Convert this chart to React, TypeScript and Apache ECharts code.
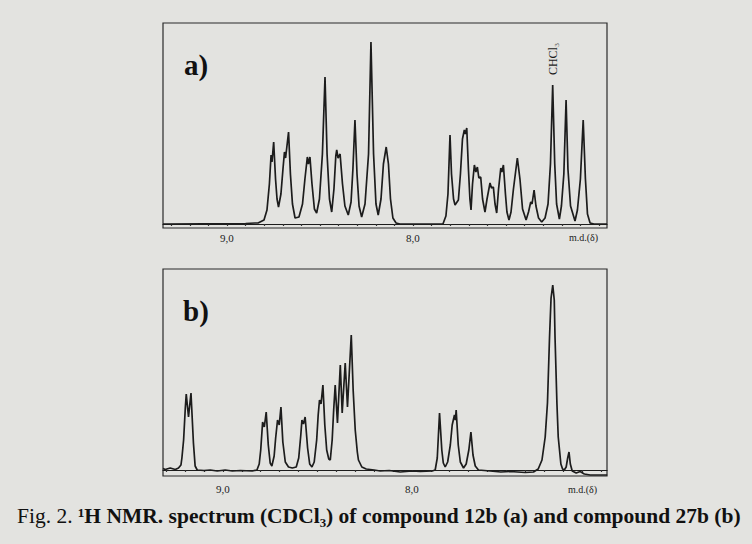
import React, { useEffect, useRef } from "react";
import * as echarts from "echarts";

// Spectrum a) — compound 12b: [chemical shift (ppm), intensity]
const spectrumA: number[][] = [
  [9.344, 0], [8.9, 0.5], [8.849, 1], [8.833, 1], [8.801, 4], [8.785, 14], [8.772, 40], [8.763, 69], [8.758, 62],
  [8.749, 82], [8.739, 45], [8.731, 25], [8.723, 17], [8.71, 30], [8.699, 55], [8.691, 72], [8.685, 66], [8.669, 92],
  [8.659, 50], [8.648, 20], [8.634, 6], [8.613, 7], [8.594, 20], [8.581, 45], [8.568, 67], [8.562, 60], [8.554, 67],
  [8.543, 40], [8.53, 15], [8.518, 11], [8.503, 25], [8.487, 70], [8.473, 147], [8.462, 70], [8.449, 25], [8.437, 12],
  [8.425, 35], [8.415, 68], [8.41, 74], [8.403, 66], [8.392, 70], [8.379, 40], [8.366, 18], [8.348, 9], [8.333, 22],
  [8.323, 55], [8.312, 104], [8.301, 50], [8.29, 18], [8.276, 7], [8.258, 20], [8.239, 70], [8.226, 182], [8.212, 70],
  [8.199, 20], [8.187, 9], [8.172, 25], [8.159, 60], [8.144, 77], [8.132, 60], [8.121, 25], [8.108, 6], [8.091, 1],
  [8.07, 0], [7.839, 0], [7.823, 8], [7.812, 30], [7.801, 89], [7.793, 50], [7.782, 25], [7.774, 19], [7.756, 24],
  [7.745, 50], [7.734, 85], [7.724, 94], [7.718, 90], [7.711, 96], [7.702, 55], [7.694, 25], [7.688, 14], [7.68, 40],
  [7.67, 59], [7.662, 52], [7.654, 57], [7.646, 46], [7.636, 47], [7.626, 25], [7.613, 12], [7.602, 25], [7.586, 41],
  [7.578, 36], [7.568, 37], [7.559, 20], [7.55, 11], [7.54, 35], [7.528, 56], [7.522, 52], [7.514, 59], [7.503, 30],
  [7.495, 12], [7.484, 4], [7.473, 12], [7.46, 35], [7.439, 66], [7.425, 45], [7.411, 15], [7.392, 4], [7.379, 12],
  [7.367, 22], [7.36, 20], [7.349, 34], [7.339, 18], [7.325, 6], [7.308, 2], [7.29, 6], [7.274, 20], [7.261, 60],
  [7.249, 139], [7.238, 60], [7.228, 20], [7.213, 5], [7.202, 18], [7.189, 50], [7.177, 124], [7.167, 55], [7.153, 18],
  [7.129, 3], [7.116, 14], [7.1, 45], [7.085, 104], [7.073, 45], [7.062, 10], [7.048, 1], [7.027, 0], [6.957, 0],
];

// Spectrum b) — compound 27b: [chemical shift (ppm), intensity]
const spectrumB: number[][] = [
  [9.317, 1.5], [9.305, 0.5], [9.279, 2], [9.252, 0.5], [9.235, 2], [9.222, 5], [9.217, 12], [9.208, 30], [9.199, 62],
  [9.194, 76], [9.182, 53], [9.169, 77], [9.156, 27], [9.147, 4], [9.136, 0], [9.1, -0.5], [9.067, 0], [9.03, -1],
  [8.988, 0], [8.95, -1], [8.908, -0.5], [8.845, -1], [8.82, 0], [8.808, 6], [8.8, 20], [8.79, 48], [8.781, 43],
  [8.771, 58], [8.76, 25], [8.75, 7], [8.741, 4], [8.729, 14], [8.721, 32], [8.711, 50], [8.702, 45], [8.693, 63],
  [8.683, 28], [8.67, 8], [8.653, 3], [8.633, 2], [8.612, 3], [8.599, 12], [8.588, 35], [8.582, 50], [8.574, 46],
  [8.565, 53], [8.552, 22], [8.541, 6], [8.529, 3], [8.517, 8], [8.504, 30], [8.496, 55], [8.489, 70], [8.481, 66],
  [8.471, 85], [8.461, 45], [8.451, 20], [8.44, 11], [8.432, 10], [8.422, 30], [8.414, 60], [8.406, 85], [8.394, 47],
  [8.379, 105], [8.369, 57], [8.353, 107], [8.341, 63], [8.321, 135], [8.311, 80], [8.3, 40], [8.289, 18], [8.283, 10],
  [8.265, 3], [8.242, 1], [8.2, 0], [8.168, -1], [8.12, -0.5], [8.062, -2], [8.0, -1], [7.956, -1.5], [7.893, -1],
  [7.877, 0], [7.866, 12], [7.854, 57], [7.842, 20], [7.834, 7], [7.824, 3], [7.811, 8], [7.797, 25], [7.787, 45],
  [7.775, 55], [7.77, 50], [7.766, 60], [7.755, 25], [7.744, 8], [7.727, 2], [7.713, 6], [7.699, 20], [7.688, 38],
  [7.677, 15], [7.665, 4], [7.648, 0], [7.586, -1], [7.53, -2], [7.48, -1.5], [7.401, -2.5], [7.357, -2], [7.332, 1],
  [7.312, 10], [7.295, 33], [7.283, 67], [7.272, 133], [7.264, 172], [7.255, 185], [7.247, 170], [7.243, 133],
  [7.233, 67], [7.226, 33], [7.212, 6], [7.203, 1], [7.194, 0], [7.184, 3], [7.176, 12], [7.169, 18], [7.162, 6],
  [7.152, -1], [7.131, -3], [7.11, -1.5], [7.088, -4], [7.057, -5], [7.004, -5], [6.967, -5],
];

const tickValues = [9.3, 9.2, 9.1, 9.0, 8.9, 8.8, 8.7, 8.6, 8.5, 8.4, 8.3, 8.2, 8.1, 8.0, 7.9, 7.8, 7.7, 7.6, 7.5, 7.4, 7.3, 7.2, 7.1, 7.0];
const labelValues = [9.0, 8.0];
const panelLabels = ["a)", "b)"];
const solventLabel = "CHCl₃";
const axisUnit = "m.d.(δ)";
const captionPlain = "Fig. 2. ";
const captionBold = "¹H NMR. spectrum (CDCl₃) of compound 12b (a) and compound 27b (b)";

const SERIF = "'Liberation Serif', 'DejaVu Serif', serif";
const INK = "#1c1c1c";

export default function App() {
  const ref = useRef<HTMLDivElement>(null);
  useEffect(() => {
    document.body.style.margin = "0";
    if (!ref.current) return;
    const chart = echarts.init(ref.current, null, { renderer: "svg" });

    const xAxisBase = (gridIndex: number, min: number, max: number, margin: number) => ({
      type: "value",
      gridIndex,
      inverse: true,
      min,
      max,
      axisLine: { show: true, lineStyle: { color: INK, width: 1.2 } },
      axisTick: { show: true, customValues: tickValues, length: 2, lineStyle: { color: "#333", width: 1.2 } },
      axisLabel: {
        show: true,
        customValues: labelValues,
        formatter: (v: number) => v.toFixed(1).replace(".", ","),
        fontFamily: SERIF,
        fontSize: 11,
        color: INK,
        margin,
      },
      splitLine: { show: false },
    });

    chart.setOption({
      animation: false,
      backgroundColor: "#e3e3e0",
      grid: [
        { left: 163, top: 23, width: 444, height: 205, show: true, borderColor: "#2a2a2a", borderWidth: 1.2, backgroundColor: "transparent" },
        { left: 163, top: 269, width: 444, height: 207, show: true, borderColor: "#2a2a2a", borderWidth: 1.2, backgroundColor: "transparent" },
      ],
      xAxis: [xAxisBase(0, 6.957, 9.344, 4), xAxisBase(1, 6.968, 9.317, 7)],
      yAxis: [
        { type: "value", gridIndex: 0, min: -4, max: 201, show: false, splitLine: { show: false } },
        { type: "value", gridIndex: 1, min: -6, max: 201, show: false, splitLine: { show: false } },
      ],
      series: [
        {
          type: "line", xAxisIndex: 0, yAxisIndex: 0, data: spectrumA, showSymbol: false, symbol: "none",
          lineStyle: { color: INK, width: 1.7 }, silent: true,
        },
        {
          type: "line", xAxisIndex: 1, yAxisIndex: 1, data: spectrumB, showSymbol: false, symbol: "none",
          lineStyle: { color: INK, width: 1.7 }, silent: true,
        },
      ],
      graphic: [
        { type: "text", x: 184, y: 50, style: { text: panelLabels[0], font: `bold 29px ${SERIF}`, fill: "#111" } },
        { type: "text", x: 183, y: 296, style: { text: panelLabels[1], font: `bold 29px ${SERIF}`, fill: "#111" } },
        {
          type: "text", x: 553, y: 59, rotation: Math.PI / 2,
          style: { text: solventLabel, font: `12px ${SERIF}`, fill: INK, align: "center", verticalAlign: "middle" },
        },
        { type: "text", x: 569, y: 232, style: { text: axisUnit, font: `10px ${SERIF}`, fill: INK } },
        { type: "text", x: 568, y: 484, style: { text: axisUnit, font: `10px ${SERIF}`, fill: INK } },
        {
          type: "text", x: 17, y: 505,
          style: {
            text: `{r|${captionPlain}}{b|${captionBold}}`,
            rich: {
              r: { fontFamily: SERIF, fontSize: 21.5, fill: "#111", color: "#111" },
              b: { fontFamily: SERIF, fontSize: 21.5, fontWeight: "bold", fill: "#111", color: "#111" },
            },
          },
        },
      ],
    });
    return () => chart.dispose();
  }, []);
  return <div ref={ref} style={{ position: "fixed", left: 0, top: 0, width: 752, height: 544 }} />;
}
